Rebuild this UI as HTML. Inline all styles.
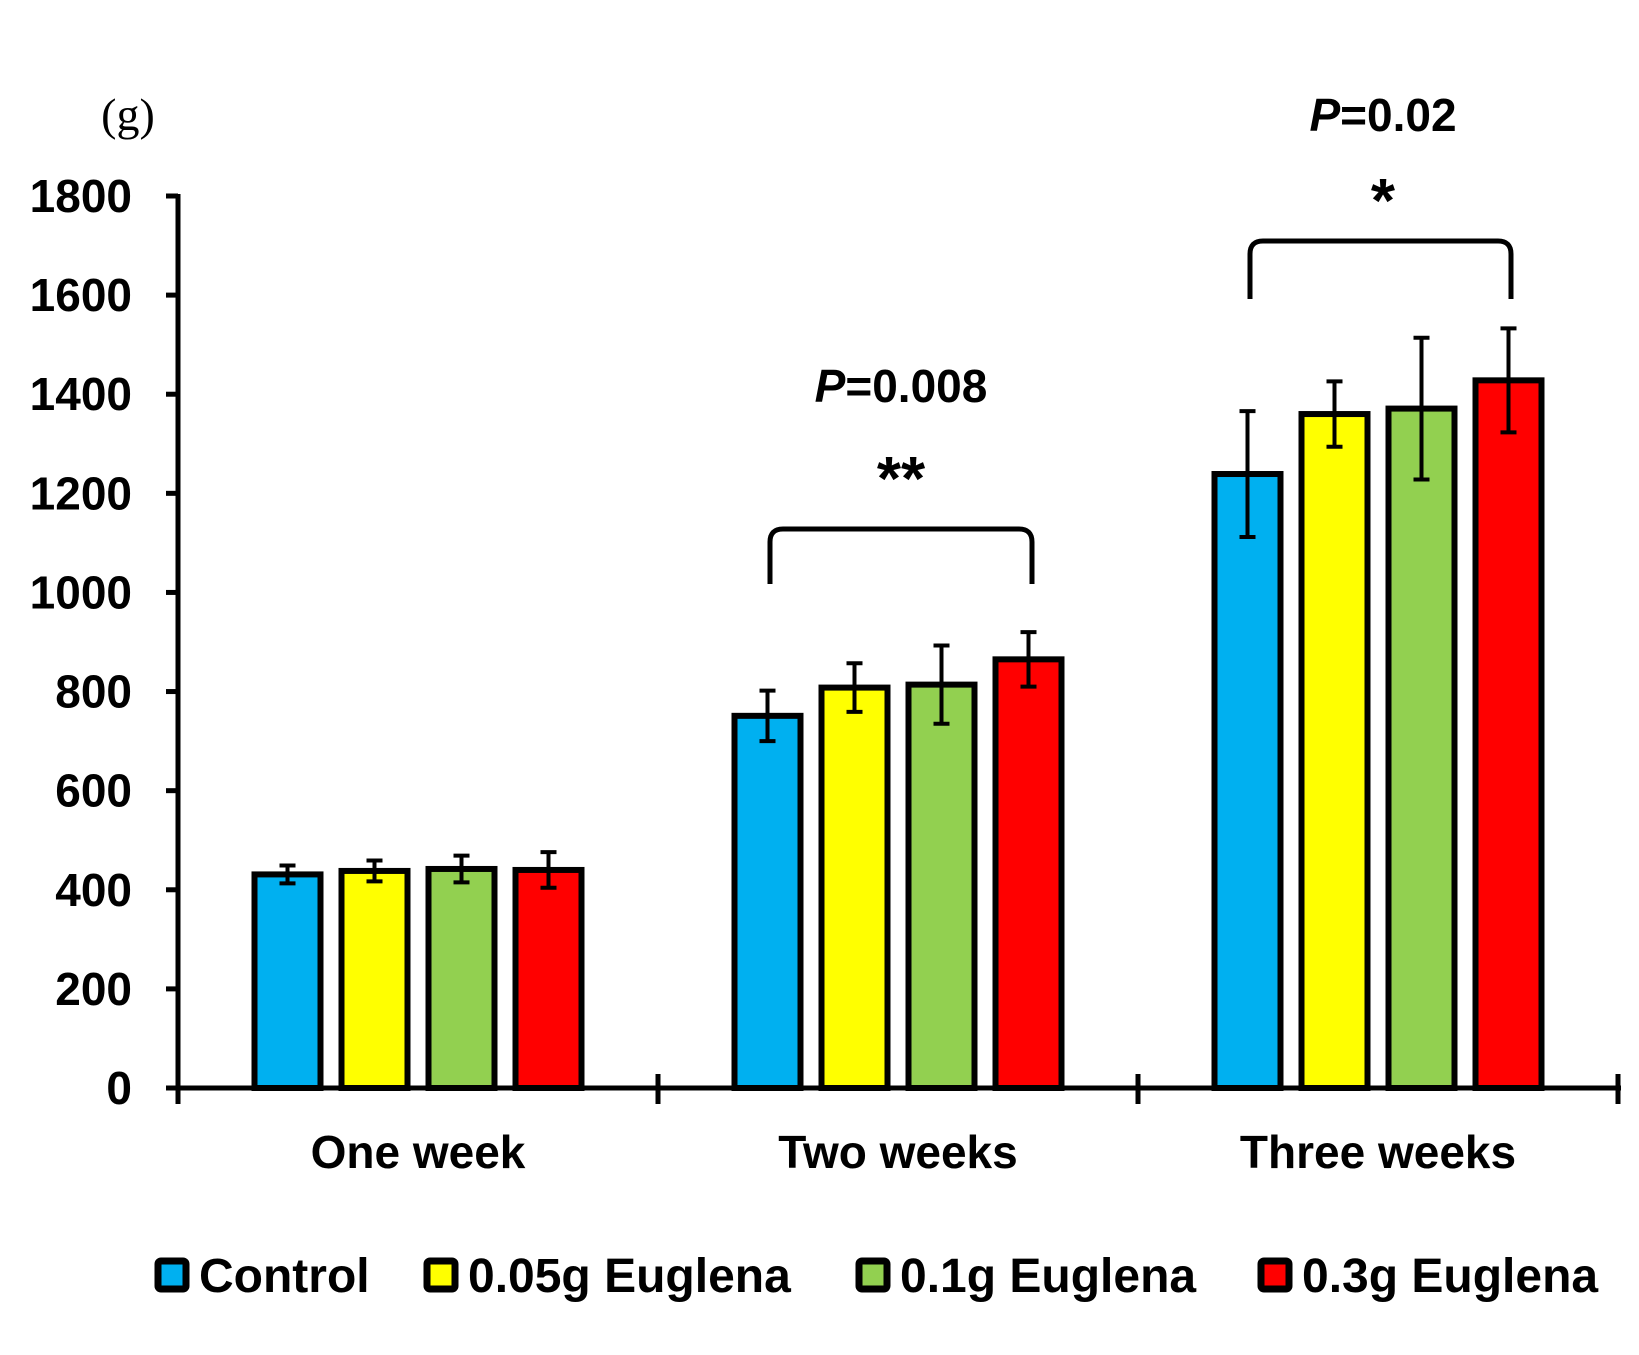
<!DOCTYPE html>
<html><head><meta charset="utf-8"><style>
body{margin:0;background:#fff}
svg text{font-family:"Liberation Sans","Noto Sans CJK JP",sans-serif;font-weight:bold;fill:#000}
</style></head><body>
<svg id="chart" width="1639" height="1350" viewBox="0 0 1639 1350" xmlns="http://www.w3.org/2000/svg">
<text x="128" y="130" font-size="46" text-anchor="middle" style="font-family:'Liberation Serif',serif;font-weight:normal">(g)</text>
<g id="bars"></g>
<g id="axes"></g>
<g>
<path d="M770 584 V542 Q770 529 783 529 H1019 Q1032 529 1032 542 V584" fill="none" stroke="#000" stroke-width="5"/>
<text x="901" y="402" font-size="46" text-anchor="middle"><tspan font-style="italic">P</tspan>=0.008</text>
<text x="901" y="500" font-size="62" text-anchor="middle">**</text>
</g>
<g>
<path d="M1250 299 V254 Q1250 241 1263 241 H1498 Q1511 241 1511 254 V299" fill="none" stroke="#000" stroke-width="5"/>
<text x="1383" y="131" font-size="46" text-anchor="middle"><tspan font-style="italic">P</tspan>=0.02</text>
<text x="1383" y="222" font-size="62" text-anchor="middle">*</text>
</g>
<g id="legend"></g>
</svg>
<script>
const categories=["One week","Two weeks","Three weeks"];
const seriesNames=["Control","0.05g Euglena","0.1g Euglena","0.3g Euglena"];
const colors=["#00b0f0","#ffff00","#92d050","#ff0000"];
const control=[431,751,1239];
const euglena005=[438,808,1360];
const euglena01=[442,814,1371];
const euglena03=[440,865,1428];
const errControl=[18,51,127];
const errE005=[21,49,66];
const errE01=[27,79,143];
const errE03=[36,55,105];
const yTicks=[0,200,400,600,800,1000,1200,1400,1600,1800];

const NS="http://www.w3.org/2000/svg";
const x0=178,catW=480,y0=1088,yTop=196,yMax=1800;
const yScale=v=>y0-(v/yMax)*(y0-yTop);
const xCat=i=>x0+catW*i+catW/2;
function mk(tag,attrs,parent){const e=document.createElementNS(NS,tag);for(const k in attrs)e.setAttribute(k,attrs[k]);parent.appendChild(e);return e;}
const series=[control,euglena005,euglena01,euglena03];
const errs=[errControl,errE005,errE01,errE03];
const bars=document.getElementById('bars');
const pitch=87,bw=66;
categories.forEach((c,i)=>{
  series.forEach((s,j)=>{
    const cx=xCat(i)+(j-1.5)*pitch;
    const r=mk('rect',{x:cx-bw/2,y:yScale(s[i]),width:bw,height:y0-yScale(s[i]),fill:colors[j],stroke:'#000','stroke-width':6},bars);
    
    
    const hi=yScale(s[i]+errs[j][i]),lo=yScale(s[i]-errs[j][i]);
    const eb=mk('path',{d:`M${cx} ${hi} V${lo} M${cx-8} ${hi} H${cx+8} M${cx-8} ${lo} H${cx+8}`,stroke:'#000','stroke-width':4,fill:'none'},bars);
    
    
  });
  const t=mk('text',{x:xCat(i),y:1168,'font-size':46,'text-anchor':'middle'},bars);
  t.textContent=c;
  
  
});
const axes=document.getElementById('axes');
const ya=mk('path',{d:`M${x0} ${yTop-2} V${y0+16} M${x0-12} ${yTop} H${x0}`,stroke:'#000','stroke-width':5,fill:'none'},axes);


const xa=mk('path',{d:`M166 ${y0} H1621`,stroke:'#000','stroke-width':5,fill:'none'},axes);


for(let i=1;i<=3;i++){const tk=mk('path',{d:`M${x0+catW*i} ${y0-14} V${y0+16}`,stroke:'#000','stroke-width':5},axes);

}
yTicks.forEach(v=>{
  const tk=mk('path',{d:`M${x0-12} ${yScale(v)} H${x0}`,stroke:'#000','stroke-width':5},axes);
  
  
  const t=mk('text',{x:132,y:yScale(v)+16,'font-size':46,'text-anchor':'end'},axes);
  t.textContent=v;
  
  
});
const leg=document.getElementById('legend');
const lx=[155,424,856,1258];
seriesNames.forEach((n,j)=>{
  const r=mk('rect',{x:lx[j]+3,y:1261,width:28,height:28,fill:colors[j],stroke:'#000','stroke-width':7,rx:3},leg);
  
  
  const t=mk('text',{x:lx[j]+44,y:1292,'font-size':48},leg);
  t.textContent=n;
  
  
});
</script>
</body></html>
